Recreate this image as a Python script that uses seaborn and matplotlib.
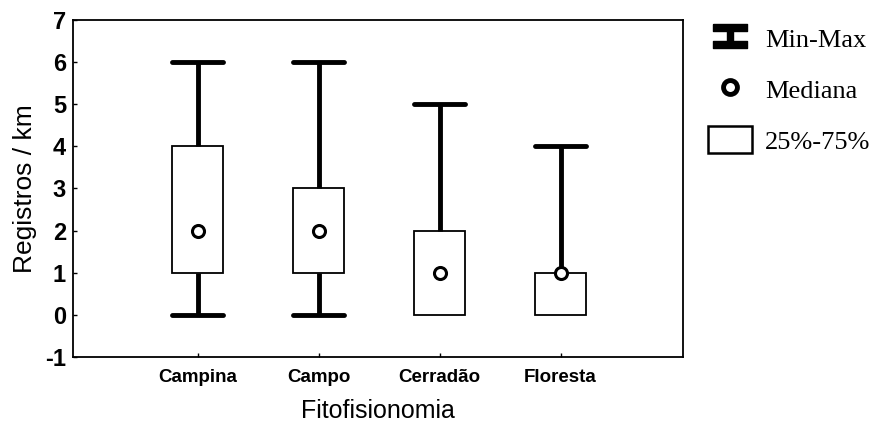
import matplotlib
matplotlib.use("Agg")
import matplotlib.pyplot as plt
import seaborn as sns
import pandas as pd
import numpy as np
from matplotlib.lines import Line2D
from matplotlib.patches import Patch
from matplotlib.path import Path

categories = ["Campina", "Campo", "Cerradão", "Floresta"]
mins = [0, 0, 0, 0]
q1s = [1, 1, 0, 0]
medians = [2, 2, 1, 1]
q3s = [4, 3, 2, 1]
maxs = [6, 6, 5, 4]
yticks = [-1, 0, 1, 2, 3, 4, 5, 6, 7]

rows = []
for c, a, b, m, d, e in zip(categories, mins, q1s, medians, q3s, maxs):
    for v in (a, b, m, d, e):
        rows.append({"Fitofisionomia": c, "val": v})
df = pd.DataFrame(rows)
med_df = pd.DataFrame({"Fitofisionomia": categories, "val": medians})

sns.set_style("white")
plt.rcParams["font.family"] = ["Liberation Sans", "DejaVu Sans"]
plt.rcParams.update({"text.color": "black", "axes.labelcolor": "black",
                     "xtick.color": "black", "ytick.color": "black"})

fig = plt.figure(figsize=(8.73, 4.25), dpi=100)
ax = fig.add_axes([0.0836, 0.16, 0.782 - 0.0836, 0.953 - 0.16])

sns.boxplot(data=df, x="Fitofisionomia", y="val", order=categories, whis=(0, 100),
            width=0.42, color="white", linecolor="black", linewidth=1.3,
            showfliers=False,
            whiskerprops=dict(linewidth=3.5),
            capprops=dict(linewidth=3.5),
            medianprops=dict(linestyle="none"),
            capwidths=0.42, ax=ax)

# hide caps that coincide with the box edge (min == q1 or max == q3)
for ln in ax.lines:
    xd = np.asarray(ln.get_xdata(), dtype=float)
    yd = np.asarray(ln.get_ydata(), dtype=float)
    if len(yd) == 2 and yd[0] == yd[1] and abs(xd[1] - xd[0]) > 0.3:
        i = int(round(xd.mean()))
        if (yd[0] == mins[i] and mins[i] == q1s[i]) or (yd[0] == maxs[i] and maxs[i] == q3s[i]):
            ln.set_visible(False)

sns.scatterplot(data=med_df, x="Fitofisionomia", y="val", s=75, color="white",
                edgecolor="black", linewidth=2.2, zorder=5, ax=ax, legend=False)

ax.set_xlim(-1.03, 4.01)
ax.set_ylim(-1, 7)
ax.set_yticks(yticks)
ax.set_yticklabels([str(t) for t in yticks], fontsize=17, fontweight="bold")
for lbl in ax.get_xticklabels():
    lbl.set_fontsize(13.5)
    lbl.set_fontweight("bold")
ax.set_ylabel("Registros / km", fontsize=19, labelpad=6)
ax.set_xlabel("Fitofisionomia", fontsize=18, labelpad=9)
ax.tick_params(axis="y", direction="in", length=3, width=1, left=True, pad=5)
ax.tick_params(axis="x", direction="in", length=3, width=1, bottom=True, pad=9)
for s in ax.spines.values():
    s.set_color("black")
    s.set_linewidth(1.3)

# I-shaped marker for Min-Max
verts = [(-1, 0.71), (1, 0.71), (1, 0.27), (0.2, 0.27), (0.2, -0.27), (1, -0.27), (1, -0.71),
         (-1, -0.71), (-1, -0.27), (-0.2, -0.27), (-0.2, 0.27), (-1, 0.27), (-1, 0.71)]
imark = Path(verts)
handles = [
    Line2D([], [], marker=imark, markersize=25, color="black", linestyle="none"),
    Line2D([], [], marker="o", markersize=10, markerfacecolor="white",
           markeredgecolor="black", markeredgewidth=3.5, linestyle="none"),
    Patch(facecolor="white", edgecolor="black", linewidth=1.8),
]
labels = ["Min-Max", "Mediana", "25%-75%"]
leg = fig.legend(handles, labels, loc="upper left", bbox_to_anchor=(708 / 873, 1 - 24.5 / 425),
                 frameon=False, prop={"family": "Liberation Serif", "size": 19},
                 handlelength=1.67, handleheight=1.2, labelspacing=0.89, handletextpad=0.5,
                 borderpad=0, borderaxespad=0)

fig.savefig("out.png", dpi=100)
